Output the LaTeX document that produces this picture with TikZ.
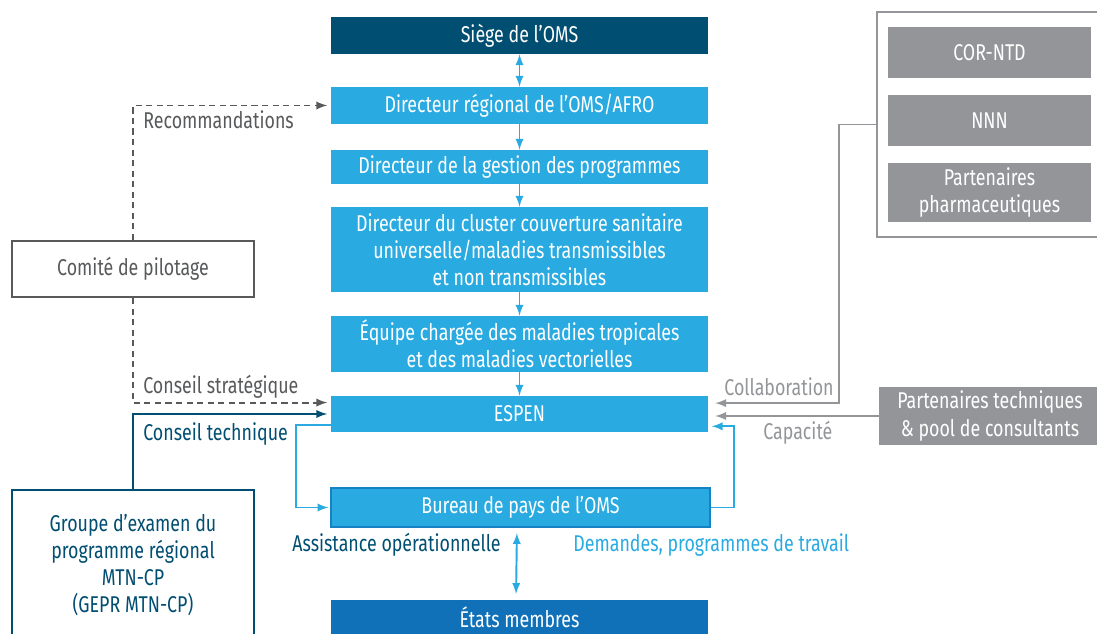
\documentclass[tikz,border=0pt]{standalone}
\usepackage{fontspec}
\setmainfont[FakeStretch=0.78]{Fira Sans}
\usetikzlibrary{arrows}
\definecolor{omsdark}{RGB}{0,78,113}
\definecolor{omsblue}{RGB}{41,170,225}
\definecolor{omsedge}{RGB}{22,130,195}
\definecolor{omsmid}{RGB}{16,113,185}
\definecolor{omsgrey}{RGB}{147,149,152}
\definecolor{omstext}{RGB}{88,89,91}
\tikzset{
  box/.style={inner sep=0pt,align=center,font=\fontsize{13}{15.5}\selectfont},
  mainbox/.style={box,fill=omsblue,text=white,minimum width=7.54cm},
  greybox/.style={box,fill=omsgrey,text=white,minimum width=4.06cm},
  sidebox/.style={box,draw,line width=1.1pt,fill=white,minimum width=4.84cm},
  lbl/.style={inner sep=0pt,font=\fontsize{13}{15.5}\selectfont},
  link/.style={line width=1.1pt,-latex},
  dashlink/.style={link,omstext,dash pattern=on 3.5pt off 2.5pt}
}
\begin{document}
\begin{tikzpicture}[x=0.02cm,y=-0.02cm]
\clip (0,0) rectangle (1097,634);
%central column
\node[mainbox,fill=omsdark,minimum height=0.74cm](siege)at(519.5,35.5){Siège de l’OMS};
\node[mainbox,minimum height=0.74cm](dirreg)at(519.5,105.5){Directeur régional de l’OMS/AFRO};
\node[mainbox,minimum height=0.68cm](dirgest)at(519.5,167){Directeur de la gestion des programmes};
\node[mainbox,minimum height=1.7cm](cluster)at(519.5,249.5){Directeur du cluster couverture sanitaire\\universelle/maladies transmissibles\\et non transmissibles};
\node[mainbox,minimum height=1.12cm](equipe)at(519.5,344){Équipe chargée des maladies tropicales\\et des maladies vectorielles};
\node[mainbox,minimum height=0.72cm](espen)at(519.5,414){ESPEN};
\node[mainbox,draw=omsedge,line width=1.1pt,minimum width=7.58cm,minimum height=0.78cm](bureau)at(520.5,507.5){Bureau de pays de l’OMS};
\node[mainbox,fill=omsmid,minimum height=0.7cm](etats)at(519.5,617){États membres};
%left side
\node[sidebox,draw=omstext,text=omstext,minimum height=1.12cm](comite)at(133,269){Comité de pilotage};
\node[sidebox,draw=omsdark,text=omsdark,minimum height=3cm](groupe)at(133,565){Groupe d’examen du\\programme régional\\MTN-CP\\(GEPR MTN-CP)};
%right side
\node[draw=omsgrey,line width=1.1pt,fill=white,minimum width=4.44cm,minimum height=4.5cm](panel)at(988,124.5){};
\node[greybox,minimum height=1.02cm](cor)at(989.5,52.5){COR-NTD};
\node[greybox,minimum height=1.02cm](nnn)at(989.5,120.5){NNN};
\node[greybox,minimum height=1.18cm](pharma)at(989.5,192.5){Partenaires\\pharmaceutiques};
\node[greybox,minimum width=4.44cm,minimum height=1.16cm](parttech)at(990,416){Partenaires techniques\\\& pool de consultants};
%arrows
\draw[link,omsblue,latex-latex](siege)--(dirreg);
\draw[link,omsblue](dirreg)--(dirgest);
\draw[link,omsblue](dirgest)--(cluster);
\draw[link,omsblue](cluster)--(equipe);
\draw[link,omsblue](equipe)--(espen);
\draw[link,omsblue,latex-latex,shorten <=3pt,shorten >=3pt]([xshift=-2pt]bureau.south)--([xshift=-2pt]etats.north);
\draw[dashlink,shorten >=2pt](comite.north)|-(dirreg.west);
\draw[dashlink,shorten >=2pt](comite.south)|-([yshift=6.5pt]espen.west);
\draw[link,omsdark,shorten >=2pt](groupe.north)|-(espen.west);
\draw[link,omsblue,shorten >=1pt]([yshift=-6.5pt]espen.west)--++(-35,0)|-(bureau.west);
\draw[link,omsblue,shorten >=2pt](bureau.east)--++(23,0)|-([yshift=-7pt]espen.east);
\draw[link,omsgrey,shorten >=4pt](panel.west)--++(-37,0)|-([yshift=6.2pt]espen.east);
\draw[link,omsgrey,shorten >=4pt](parttech.west)--(parttech.west-|espen.east);
%labels
\node[lbl,anchor=west,text=omstext](reco)at(143,120){Recommandations};
\node[lbl,anchor=west,text=omstext](strat)at(143,387){Conseil stratégique};
\node[lbl,anchor=west,text=omsdark](tech)at(143,434){Conseil technique};
\node[lbl,anchor=east,text=omsgrey](collab)at(834,387){Collaboration};
\node[lbl,anchor=west,text=omsgrey](capa)at(763,433){Capacité};
\node[lbl,anchor=east,text=omsdark](assist)at(501,545){Assistance opérationnelle};
\node[lbl,anchor=west,text=omsblue](dem)at(573,545){Demandes, programmes de travail};
\end{tikzpicture}
\end{document}
